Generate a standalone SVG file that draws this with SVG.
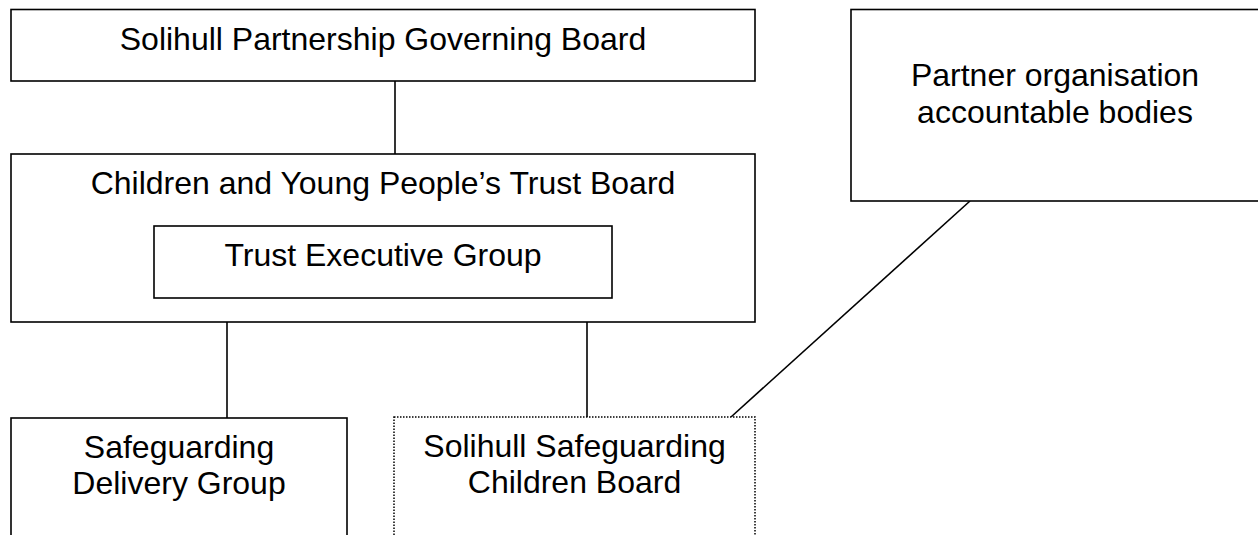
<svg xmlns="http://www.w3.org/2000/svg" width="1258" height="535" viewBox="0 0 1258 535">
<style>
  .box { fill: #ffffff; stroke: #000000; stroke-width: 1.6; }
  .dotted { fill: #ffffff; stroke: #000000; stroke-width: 1.5; stroke-dasharray: 1.5 1.5; }
  .conn { stroke: #000000; stroke-width: 1.6; fill: none; }
  .lbl { font-family: "Liberation Sans", Arial, sans-serif; font-size: 32px; fill: #000000; text-anchor: middle; }
</style>
<rect width="1258" height="535" fill="#ffffff"/>
<g id="connectors">
  <line class="conn" x1="395" y1="81" x2="395" y2="154"/>
  <line class="conn" x1="227" y1="322" x2="227" y2="418"/>
  <line class="conn" x1="587" y1="322" x2="587" y2="417"/>
  <line class="conn" x1="970" y1="201" x2="731" y2="417"/>
</g>
<g id="governing-board">
  <rect class="box" x="11" y="9.5" width="744" height="71.5"/>
  <text class="lbl" x="383" y="50">Solihull Partnership Governing Board</text>
</g>
<g id="trust-board">
  <rect class="box" x="11" y="154" width="744" height="168"/>
  <text class="lbl" x="383" y="194">Children and Young People’s Trust Board</text>
</g>
<g id="trust-executive-group">
  <rect class="box" x="154" y="226" width="458" height="72"/>
  <text class="lbl" x="383" y="266">Trust Executive Group</text>
</g>
<g id="partner-bodies">
  <rect class="box" x="851" y="9.5" width="408" height="191.5"/>
  <text class="lbl" x="1055" y="86">Partner organisation</text>
  <text class="lbl" x="1055" y="123">accountable bodies</text>
</g>
<g id="safeguarding-delivery-group">
  <rect class="box" x="11" y="418" width="336" height="130"/>
  <text class="lbl" x="179" y="458">Safeguarding</text>
  <text class="lbl" x="179" y="494">Delivery Group</text>
</g>
<g id="safeguarding-children-board">
  <rect class="dotted" x="394" y="417" width="361" height="130"/>
  <text class="lbl" x="574.5" y="457">Solihull Safeguarding</text>
  <text class="lbl" x="574.5" y="493">Children Board</text>
</g>
</svg>
